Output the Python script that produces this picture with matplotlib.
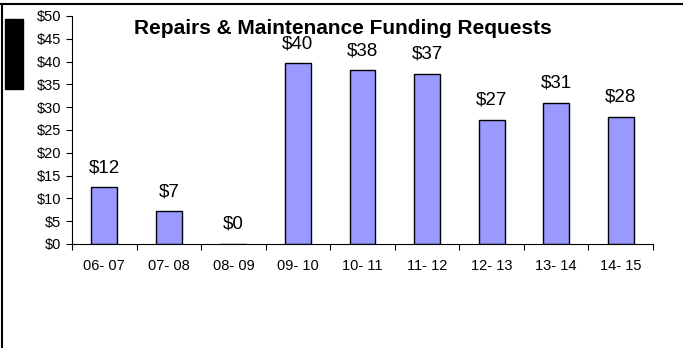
import matplotlib.pyplot as plt
from matplotlib.patches import Rectangle
from matplotlib.lines import Line2D

plt.rcParams['font.family'] = ['Liberation Sans', 'DejaVu Sans']

Years = ['06- 07', '07- 08', '08- 09', '09- 10', '10- 11', '11- 12', '12- 13', '13- 14', '14- 15']
Funding = [12.4, 7.2, 0.0, 39.6, 38.1, 37.3, 27.2, 31.0, 27.9]
YTicks = [0, 5, 10, 15, 20, 25, 30, 35, 40, 45, 50]

fig = plt.figure(figsize=(6.83, 3.48), dpi=100)
ax = fig.add_axes([72/683, 104/348, 581/683, 228/348])

X = range(len(Years))
ax.bar(X, Funding, width=0.4, color='#9999FF', edgecolor='black', linewidth=1.0)

for x, v in zip(X, Funding):
    ax.annotate('$%.0f' % v, (x, v), xytext=(0, 8), textcoords='offset points',
                ha='center', va='bottom', fontsize=13.5)

ax.set_xlim(-0.5, len(Years) - 0.5)
ax.set_ylim(0, 50)
ax.set_yticks(YTicks)
ax.set_yticklabels(['$%d' % t for t in YTicks], fontsize=10.5)

# ticks sit between the categories, labels under the bars
ax.set_xticks([x - 0.5 for x in range(len(Years) + 1)])
ax.set_xticklabels([])
ax.set_xticks(list(X), minor=True)
ax.set_xticklabels(Years, minor=True, fontsize=10.5)
ax.tick_params(axis='x', which='minor', length=0, pad=11)
ax.tick_params(axis='x', which='major', length=4, direction='out')
ax.tick_params(axis='y', length=4, direction='out', pad=4)

ax.spines['top'].set_visible(False)
ax.spines['right'].set_visible(False)
ax.spines['left'].set_linewidth(0.8)
ax.spines['bottom'].set_linewidth(0.8)

fig.text(0.502, 1 - 28/348, 'Repairs & Maintenance Funding Requests',
         ha='center', va='center', fontsize=15, fontweight='bold')

# black block on the left and the frame lines at top and left
fig.add_artist(Rectangle((5/683, 1 - 89/348), 18/683, 70/348,
                         transform=fig.transFigure, color='black'))
fig.add_artist(Line2D([0, 1], [1 - 3.5/348, 1 - 3.5/348], transform=fig.transFigure,
                      color='black', linewidth=1.5))
fig.add_artist(Line2D([2/683, 2/683], [0, 1 - 3.5/348], transform=fig.transFigure,
                      color='black', linewidth=1.5))

plt.savefig('out.png', dpi=100)
plt.close()
